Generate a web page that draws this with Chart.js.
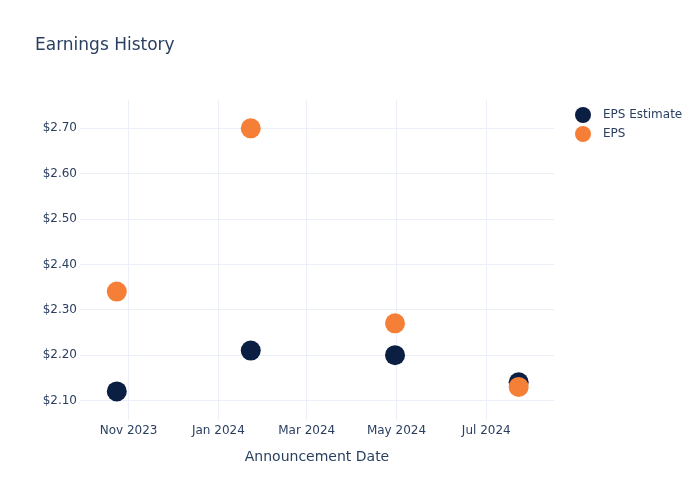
<!DOCTYPE html>
<html>
<head>
<meta charset="utf-8">
<script src="https://cdn.jsdelivr.net/npm/chart.js@4"></script>
<style>
    html, body { margin: 0; padding: 0; background: #fff; }
    #wrap { width: 700px; height: 500px; }
</style>
</head>
<body>
<div id="wrap"><canvas id="epsChart" width="700" height="500"></canvas></div>
<script>
// Announcement dates and values
const announceDates = ['2023-10-24', '2024-01-23', '2024-04-30', '2024-07-23'];
const epsEstimate = [2.12, 2.21, 2.20, 2.14];
const epsActual = [2.34, 2.70, 2.27, 2.13];

// Axis ticks
const xTickDates = ['2023-11-01', '2024-01-01', '2024-03-01', '2024-05-01', '2024-07-01'];
const xTickLabels = ['Nov 2023', 'Jan 2024', 'Mar 2024', 'May 2024', 'Jul 2024'];
const yTickValues = [2.1, 2.2, 2.3, 2.4, 2.5, 2.6, 2.7];

const xRange = ['2023-09-29', '2024-08-16'];
const yRange = [2.057, 2.7624];

const FONT = "'DejaVu Sans', sans-serif";
const TEXT = '#2a3f5f';
const GRID = '#ebf0f8';

function ts(d) {
    return Date.parse(d + 'T00:00:00Z');
}

function toPoints(values) {
    return values.map((v, i) => ({ x: ts(announceDates[i]), y: v }));
}

// Title and legend drawn on the canvas
const decorations = {
    id: 'decorations',
    afterDraw(chart) {
        const ctx = chart.ctx;
        ctx.save();
        ctx.fillStyle = TEXT;
        ctx.font = '17px ' + FONT;
        ctx.textBaseline = 'middle';
        ctx.textAlign = 'left';
        ctx.fillText('Earnings History', 35, 45.5);

        ctx.font = '12px ' + FONT;
        chart.data.datasets.forEach((ds, i) => {
            const y = 115 + i * 19;
            ctx.beginPath();
            ctx.arc(583, y, 8, 0, Math.PI * 2);
            ctx.fillStyle = ds.backgroundColor;
            ctx.fill();
            ctx.fillStyle = TEXT;
            ctx.fillText(ds.label, 603, y);
        });
        ctx.restore();
    }
};

new Chart(document.getElementById('epsChart'), {
    type: 'scatter',
    data: {
        datasets: [
            {
                label: 'EPS Estimate',
                data: toPoints(epsEstimate),
                backgroundColor: '#0b1f42',
                borderWidth: 0,
                pointRadius: 10,
                pointHoverRadius: 10,
                order: 1
            },
            {
                label: 'EPS',
                data: toPoints(epsActual),
                backgroundColor: '#f57f37',
                borderWidth: 0,
                pointRadius: 10,
                pointHoverRadius: 10,
                order: 0
            }
        ]
    },
    options: {
        responsive: false,
        animation: false,
        devicePixelRatio: 1,
        layout: { padding: { left: 0, top: 100, right: 146, bottom: 0 } },
        plugins: {
            legend: { display: false },
            tooltip: { enabled: false }
        },
        scales: {
            x: {
                type: 'linear',
                min: ts(xRange[0]),
                max: ts(xRange[1]),
                afterBuildTicks: function(scale) {
                    scale.ticks = xTickDates.map(d => ({ value: ts(d) }));
                },
                afterFit: function(scale) {
                    scale.height = 80;
                },
                ticks: {
                    color: TEXT,
                    font: { family: FONT, size: 12 },
                    padding: 4,
                    maxRotation: 0,
                    autoSkip: false,
                    callback: function(value) {
                        const i = xTickDates.findIndex(d => ts(d) === value);
                        return i >= 0 ? xTickLabels[i] : '';
                    }
                },
                grid: { color: GRID, drawTicks: false, lineWidth: 1 },
                border: { display: false },
                title: {
                    display: true,
                    text: 'Announcement Date',
                    color: TEXT,
                    font: { family: FONT, size: 14 },
                    padding: { top: 0, bottom: 34 }
                }
            },
            y: {
                min: yRange[0],
                max: yRange[1],
                afterBuildTicks: function(scale) {
                    scale.ticks = yTickValues.map(v => ({ value: v }));
                },
                afterFit: function(scale) {
                    scale.width = 80;
                },
                ticks: {
                    color: TEXT,
                    font: { family: FONT, size: 12 },
                    padding: 3,
                    callback: function(value) {
                        return '$' + value.toFixed(2);
                    }
                },
                grid: { color: GRID, drawTicks: false, lineWidth: 1 },
                border: { display: false }
            }
        }
    },
    plugins: [decorations]
});
</script>
</body>
</html>
